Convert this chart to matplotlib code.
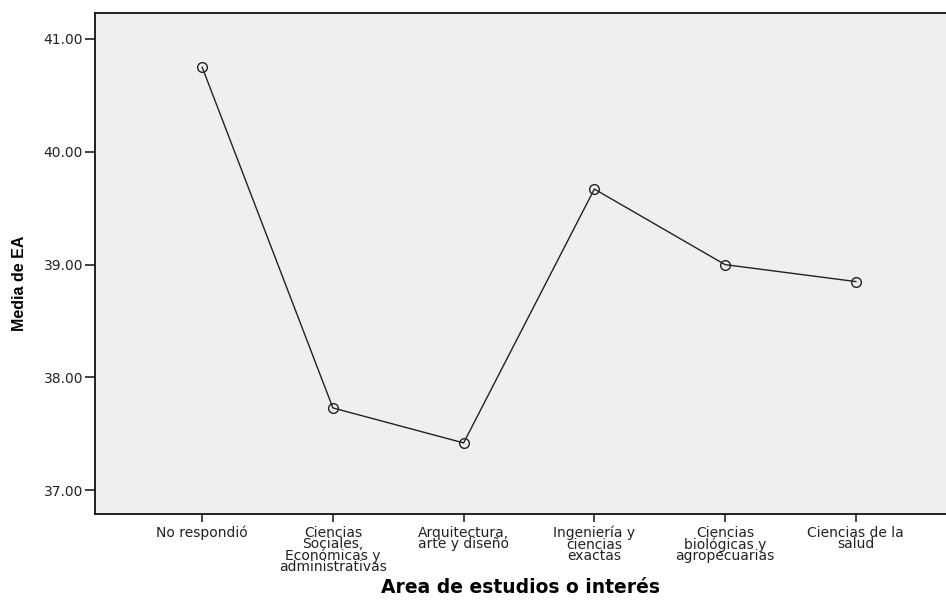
import matplotlib.pyplot as plt

# Data
categories = ['No respondió',
              'Ciencias\nSociales,\nEconómicas y\nadministrativas',
              'Arquitectura,\narte y diseño',
              'Ingeniería y\nciencias\nexactas',
              'Ciencias\nbiológicas y\nagropecuarias',
              'Ciencias de la\nsalud']
means = [40.75, 37.73, 37.42, 39.67, 39.00, 38.85]
yticks = [37.0, 38.0, 39.0, 40.0, 41.0]

plt.rcParams['font.family'] = ['DejaVu Sans']

fig = plt.figure(figsize=(9.46, 6.03), dpi=100)
ax = fig.add_axes([0.1004, 0.1476, 0.8996, 0.8308])
ax.set_facecolor('#efefef')

x = list(range(len(categories)))
ax.plot(x, means, color='#222222', linewidth=1.0, marker='o', markersize=7,
        markerfacecolor='none', markeredgecolor='#222222', markeredgewidth=1.0)

ax.set_xlim(-0.82, 5.69)
ax.set_ylim(36.79, 41.23)
ax.set_xticks(x)
ax.set_xticklabels(categories, fontsize=10, linespacing=0.76, color='#222222')
ax.set_yticks(yticks)
ax.set_yticklabels(['%.2f' % v for v in yticks], fontsize=10, color='#222222')
ax.tick_params(axis='y', direction='out', length=7.5, width=1.2, color='#222222', pad=1)
ax.tick_params(axis='x', direction='out', length=5.5, width=1.2, color='#222222', pad=3)

for side in ['left', 'bottom', 'top']:
    ax.spines[side].set_linewidth(1.3)
    ax.spines[side].set_color('#111111')
ax.spines['right'].set_visible(False)

ax.set_ylabel('Media de EA', fontsize=11.5, fontweight='bold',
              family=['Liberation Sans Narrow', 'Liberation Sans'])
ax.yaxis.set_label_coords(-0.08, 0.461)
ax.set_xlabel('Area de estudios o interés', fontsize=13.5, fontweight='bold', labelpad=3)

fig.savefig('out.png', dpi=100)
